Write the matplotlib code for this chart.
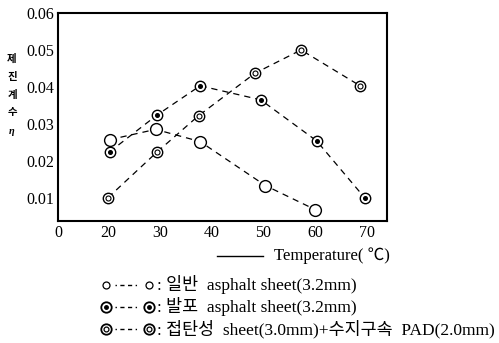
import matplotlib
matplotlib.use("Agg")
import matplotlib.pyplot as plt
from matplotlib.lines import Line2D

plt.rcParams['font.family'] = ['Liberation Serif', 'Noto Sans CJK KR', 'DejaVu Sans']

# 온도(℃) - 제진계수 η
temp_plain = [20.3, 29.2, 37.8, 50.4, 60.0]
eta_plain = [0.0257, 0.0285, 0.0252, 0.0133, 0.0068]

temp_foam = [20.3, 29.5, 37.8, 49.5, 60.3, 69.7]
eta_foam = [0.0224, 0.0324, 0.0403, 0.0365, 0.0254, 0.0098]

temp_pad = [20.0, 29.5, 37.5, 48.4, 57.3, 68.7]
eta_pad = [0.0100, 0.0224, 0.0322, 0.0437, 0.0500, 0.0403]

x_ticks = [10.35, 20, 30, 40, 50, 60, 70]
x_labels = ['0', '20', '30', '40', '50', '60', '70']
y_ticks = [0.01, 0.02, 0.03, 0.04, 0.05, 0.06]
y_labels = ['0.01', '0.02', '0.03', '0.04', '0.05', '0.06']

ylabel_chars = ['제', '진', '계', '수', 'η']
legend_texts = [': 일반  asphalt sheet(3.2mm)',
                ': 발포  asphalt sheet(3.2mm)',
                ': 접탄성  sheet(3.0mm)+수지구속  PAD(2.0mm)']

W, H = 499, 343
fig = plt.figure(figsize=(W / 100, H / 100), dpi=100)

# 전체 그림 위 픽셀 좌표용 보조 축
ov = fig.add_axes([0, 0, 1, 1])
ov.set_xlim(0, W)
ov.set_ylim(H, 0)
ov.axis('off')

ax = fig.add_axes([58 / W, 1 - 221 / H, (387 - 58) / W, (221 - 13) / H])
ax.set_xlim(10.35, 73.9)
ax.set_ylim(0.0037, 0.06)

dash = (0, (5, 4))
for t, e in [(temp_plain, eta_plain), (temp_foam, eta_foam), (temp_pad, eta_pad)]:
    ax.plot(t, e, color='black', lw=0.9, ls=dash, zorder=1)

# 마커
ax.plot(temp_plain, eta_plain, ls='none', marker='o', ms=8.5, mfc='white', mec='black', mew=1.0, zorder=3)
ax.plot(temp_foam, eta_foam, ls='none', marker='o', ms=7.5, mfc='white', mec='black', mew=1.0, zorder=3)
ax.plot(temp_foam, eta_foam, ls='none', marker='o', ms=2.6, mfc='black', mec='black', zorder=4)
ax.plot(temp_pad, eta_pad, ls='none', marker='o', ms=7.5, mfc='white', mec='black', mew=1.0, zorder=3)
ax.plot(temp_pad, eta_pad, ls='none', marker='o', ms=3.6, mfc='white', mec='black', mew=0.8, zorder=4)

ax.set_xticks(x_ticks)
ax.set_xticklabels(x_labels)
ax.set_yticks(y_ticks)
ax.set_yticklabels(y_labels)
ax.tick_params(length=0, labelsize=11.5, pad=3)
for s in ax.spines.values():
    s.set_linewidth(1.5)

# 세로 축 제목
for i, ch in enumerate(ylabel_chars):
    st = 'italic' if ch == 'η' else 'normal'
    ov.text(12, 59 + i * 18, ch, fontsize=7.5, fontstyle=st, fontweight='bold',
            ha='center', va='center')

# 가로 축 제목
ov.add_line(Line2D([217, 263], [256, 256], color='black', lw=1.0))
ov.text(274, 256, 'Temperature( ℃)', fontsize=12, ha='left', va='center')

# 범례
leg_y = [285, 307, 329]
txt_x = 157
texts = []
for k, y in enumerate(leg_y):
    ov.add_line(Line2D([115, 140], [y, y], color='black', lw=1.0,
                       dashes=[1, 2.5, 3, 2.5, 3, 2.5]))
    for xm in (106, 149):
        if k == 0:
            ov.plot(xm, y, marker='o', ms=5, mfc='white', mec='black', mew=0.9)
        elif k == 1:
            ov.plot(xm, y, marker='o', ms=7.5, mfc='white', mec='black', mew=1.3)
            ov.plot(xm, y, marker='o', ms=2.5, mfc='black', mec='black')
        else:
            ov.plot(xm, y, marker='o', ms=7.5, mfc='white', mec='black', mew=1.3)
            ov.plot(xm, y, marker='o', ms=3.5, mfc='white', mec='black', mew=0.9)
    texts.append(ov.text(txt_x, y, legend_texts[k], fontsize=12, ha='left', va='center'))

# 가장 긴 줄이 오른쪽 끝(약 495px)에 맞도록 글자 크기 조정
fig.canvas.draw()
w = texts[2].get_window_extent().width
fs = 12 * (495 - txt_x) / w
for t in texts:
    t.set_fontsize(fs)

fig.savefig('out.png', dpi=100)
